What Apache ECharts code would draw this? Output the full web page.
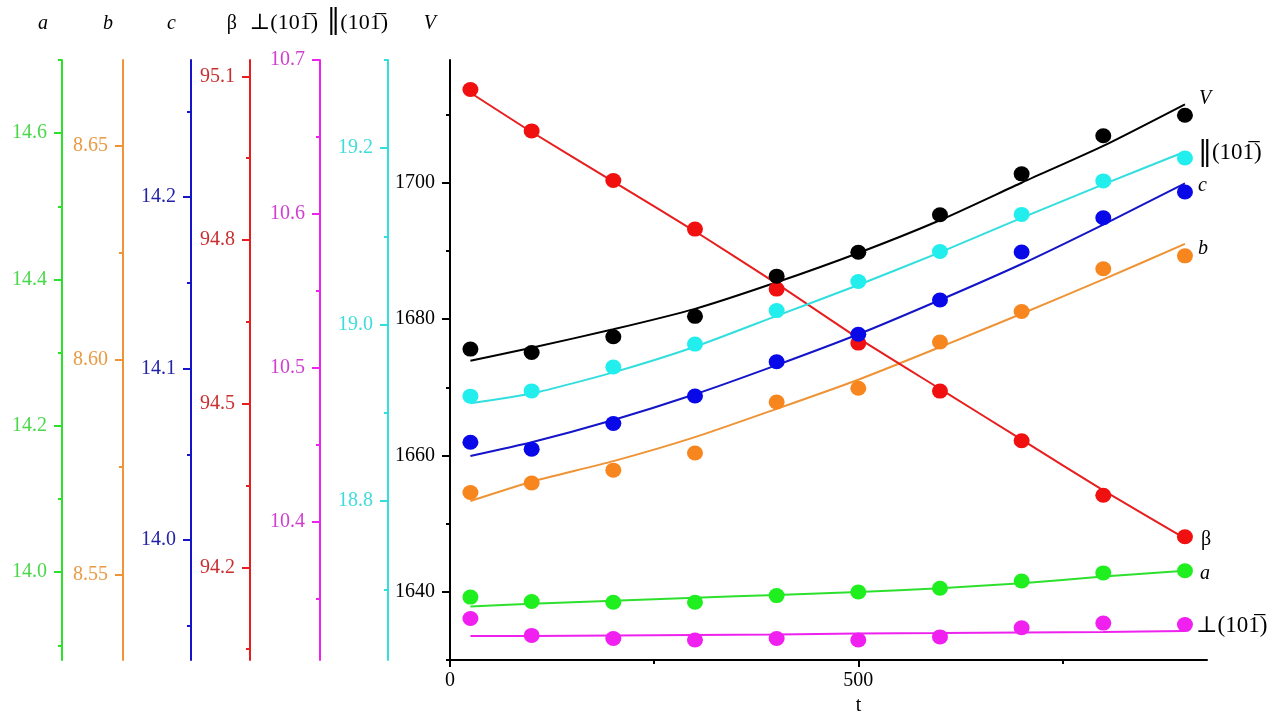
<!DOCTYPE html>
<html>
<head>
<meta charset="utf-8">
<script src="https://cdn.jsdelivr.net/npm/echarts@6/dist/echarts.min.js"></script>
<style>
  html, body { margin: 0; padding: 0; background: #fff; }
  #chart { width: 1274px; height: 711px; }
</style>
</head>
<body>
<div id="chart"></div>
<script>
// Lattice parameters vs. t: measured points and fitted curves
const tValues = [25, 100, 200, 300, 400, 500, 600, 700, 800, 900];

const aPoints = [13.966, 13.960, 13.959, 13.959, 13.968, 13.973, 13.978, 13.988, 13.999, 14.002];
const aFit    = [13.953, 13.957, 13.961, 13.965, 13.969, 13.973, 13.978, 13.985, 13.994, 14.002];

const bPoints = [8.5691, 8.5713, 8.5743, 8.5783, 8.5902, 8.5934, 8.6042, 8.6113, 8.6213, 8.6243];
const bFit    = [8.5671, 8.5716, 8.5764, 8.5820, 8.5886, 8.5954, 8.6030, 8.6108, 8.6188, 8.6271];

const cPoints = [14.057, 14.053, 14.068, 14.084, 14.104, 14.120, 14.140, 14.168, 14.188, 14.203];
const cFit    = [14.049, 14.057, 14.070, 14.085, 14.102, 14.120, 14.140, 14.161, 14.184, 14.208];

const betaPoints = [95.076, 95.000, 94.909, 94.820, 94.710, 94.611, 94.523, 94.432, 94.332, 94.256];
const betaFit    = [95.070, 94.998, 94.907, 94.816, 94.720, 94.620, 94.527, 94.434, 94.341, 94.253];

const perpPoints = [10.337, 10.326, 10.324, 10.323, 10.324, 10.323, 10.325, 10.331, 10.334, 10.333];
const perpFit    = [10.3256, 10.3256, 10.3259, 10.3262, 10.3266, 10.3272, 10.3275, 10.3279, 10.3282, 10.3288];

const paraPoints = [18.919, 18.925, 18.952, 18.978, 19.016, 19.049, 19.083, 19.125, 19.163, 19.189];
const paraFit    = [18.911, 18.922, 18.946, 18.975, 19.010, 19.045, 19.082, 19.121, 19.159, 19.196];

const vPoints = [1675.6, 1675.1, 1677.4, 1680.4, 1686.3, 1689.8, 1695.3, 1701.3, 1706.9, 1709.9];
const vFit    = [1673.9, 1675.8, 1678.5, 1681.5, 1685.4, 1689.7, 1694.5, 1700.0, 1705.4, 1711.5];

// Tick values (major labelled, minor unlabelled)
const aTicks = [14.0, 14.2, 14.4, 14.6];        const aMinor = [13.9, 14.1, 14.3, 14.5, 14.7];
const bTicks = [8.55, 8.60, 8.65];              const bMinor = [8.575, 8.625];
const cTicks = [14.0, 14.1, 14.2];              const cMinor = [13.95, 14.05, 14.15, 14.25];
const betaTicks = [94.2, 94.5, 94.8, 95.1];     const betaMinor = [94.05, 94.35, 94.65, 94.95];
const perpTicks = [10.4, 10.5, 10.6, 10.7];     const perpMinor = [10.35, 10.45, 10.55, 10.65];
const paraTicks = [18.8, 19.0, 19.2];           const paraMinor = [18.7, 18.9, 19.1, 19.3];
const vTicks = [1640, 1660, 1680, 1700];        const vMinor = [1630, 1650, 1670, 1690, 1710];
const tTicks = [0, 500];                        const tMinor = [250, 750];

const FONT = '"Liberation Serif", "Times New Roman", "DejaVu Serif", serif';
const BAR_FONT = '"DejaVu Serif", "Liberation Serif", serif';

const PERP = '\u22A5(101\u0305)';
const PARA = '\u2016(101\u0305)';
// rich-text forms: taller double bar, slightly larger Miller indices
const PERP_RICH = '{hkl|\u22A5(101\u0305)}';
const PARA_RICH = '{bar|\u2016}{hkl|(101\u0305)}';
const richName = {
  bar: { fontFamily: BAR_FONT, fontSize: 27, color: '#000', verticalAlign: 'bottom' },
  hkl: { fontFamily: FONT, fontSize: 22, color: '#000', verticalAlign: 'bottom' }
};
const richEnd = {
  bar: { fontFamily: BAR_FONT, fontSize: 28, color: '#000' },
  hkl: { fontFamily: FONT, fontSize: 23, color: '#000' }
};

// One entry per quantity: its own y axis (stacked to the left) plus point/fit series
const params = [
  { name: 'a', italic: true, color: '#2ee02e', dot: '#1fee1f', label: '#4ad84a', min: 13.88, max: 14.70,
    ticks: aTicks, minor: aMinor, dec: 1, offset: 388, namePad: 14,
    pts: aPoints, fit: aFit, endOffset: [15, 3] },
  { name: 'b', italic: true, color: '#ee9436', dot: '#f7861e', label: '#e99a44', min: 8.53, max: 8.67,
    ticks: bTicks, minor: bMinor, dec: 2, offset: 327, namePad: 10,
    pts: bPoints, fit: bFit, endOffset: [13, 5] },
  { name: 'c', italic: true, color: '#1414c8', dot: '#0808e8', label: '#2323a8', min: 13.93, max: 14.28,
    ticks: cTicks, minor: cMinor, dec: 1, offset: 259, namePad: 15,
    pts: cPoints, fit: cFit, endOffset: [13, 2] },
  { name: '\u03B2', italic: false, color: '#e81e1e', dot: '#f01010', label: '#c83030', min: 94.03, max: 95.13,
    ticks: betaTicks, minor: betaMinor, dec: 1, offset: 200, namePad: 13,
    pts: betaPoints, fit: betaFit, endOffset: [16, 1] },
  { name: PERP, rich: PERP_RICH, italic: false, color: '#ee22ee', dot: '#f020f0', label: '#d040d0', min: 10.31, max: 10.70,
    ticks: perpTicks, minor: perpMinor, dec: 1, offset: 130, namePad: 2,
    pts: perpPoints, fit: perpFit, endOffset: [11, -5] },
  { name: PARA, rich: PARA_RICH, italic: false, color: '#33dede', dot: '#22eeee', label: '#40dcdc', min: 18.62, max: 19.30,
    ticks: paraTicks, minor: paraMinor, dec: 1, offset: 62, namePad: 0,
    pts: paraPoints, fit: paraFit, endOffset: [13, 1] },
  { name: 'V', italic: true, color: '#000000', dot: '#000000', label: '#000000', min: 1630, max: 1718,
    ticks: vTicks, minor: vMinor, dec: 0, offset: 0, namePad: 14,
    pts: vPoints, fit: vFit, endOffset: [14, -6] }
];

const yAxes = [];
const series = [];

params.forEach((p) => {
  yAxes.push({
    type: 'value', position: 'left', offset: p.offset, min: p.min, max: p.max,
    name: p.rich || p.name, nameLocation: 'end', nameGap: 26,
    nameTextStyle: {
      color: '#000', fontFamily: FONT, fontSize: 20,
      fontStyle: p.italic ? 'italic' : 'normal',
      align: 'right', padding: [0, p.namePad, 0, 0],
      rich: richName
    },
    axisLine: { show: true, onZero: false, lineStyle: { color: p.color, width: 2 } },
    axisTick: { show: true, inside: false, length: 8, customValues: p.ticks,
      lineStyle: { color: p.color, width: 2 } },
    axisLabel: { show: true, customValues: p.ticks, margin: 15, color: p.label,
      fontFamily: FONT, fontSize: 20, formatter: (v) => Number(v).toFixed(p.dec) },
    splitLine: { show: false }
  });
  yAxes.push({
    type: 'value', position: 'left', offset: p.offset, min: p.min, max: p.max,
    axisLine: { show: false, onZero: false },
    axisTick: { show: true, inside: false, length: 4, customValues: p.minor,
      lineStyle: { color: p.color, width: 2 } },
    axisLabel: { show: false },
    splitLine: { show: false }
  });
});

params.forEach((p, i) => {
  series.push({
    type: 'line', name: p.name + ' fit', yAxisIndex: 2 * i, xAxisIndex: 0,
    data: tValues.map((t, k) => [t, p.fit[k]]),
    smooth: 0.2, showSymbol: false, symbol: 'none', z: 2,
    lineStyle: { color: p.color, width: 2 },
    endLabel: {
      show: true, formatter: () => p.rich || p.name, distance: 0, offset: p.endOffset,
      color: '#000', fontFamily: FONT, fontSize: 20,
      fontStyle: p.italic ? 'italic' : 'normal', rich: richEnd
    },
    emphasis: { disabled: true }
  });
});

// draw order of the dots: red below, black on top
[3, 0, 4, 1, 2, 5, 6].forEach((i) => {
  const p = params[i];
  series.push({
    type: 'scatter', name: p.name, yAxisIndex: 2 * i, xAxisIndex: 0,
    data: tValues.map((t, k) => [t, p.pts[k]]),
    symbol: 'circle', symbolSize: [16, 15], z: 3,
    itemStyle: { color: p.dot, opacity: 1 },
    emphasis: { disabled: true }
  });
});

const chart = echarts.init(document.getElementById('chart'), null, { renderer: 'canvas' });
chart.setOption({
  animation: false,
  backgroundColor: '#ffffff',
  grid: { left: 450, right: 67, top: 60, bottom: 51, containLabel: false, outerBoundsMode: 'none' },
  xAxis: [
    {
      type: 'value', position: 'bottom', min: 0, max: 927,
      name: 't', nameLocation: 'middle', nameGap: 33,
      nameTextStyle: { color: '#000', fontFamily: FONT, fontSize: 20, padding: [0, 0, 0, 60] },
      axisLine: { show: true, onZero: false, lineStyle: { color: '#000', width: 2 } },
      axisTick: { show: true, length: 7, customValues: tTicks, lineStyle: { color: '#000', width: 2 } },
      axisLabel: { show: true, customValues: tTicks, margin: 11, color: '#000', fontFamily: FONT, fontSize: 20 },
      splitLine: { show: false }
    },
    {
      type: 'value', position: 'bottom', min: 0, max: 927,
      axisLine: { show: false, onZero: false },
      axisTick: { show: true, length: 4, customValues: tMinor, lineStyle: { color: '#000', width: 2 } },
      axisLabel: { show: false },
      splitLine: { show: false }
    }
  ],
  yAxis: yAxes,
  series: series
});
</script>
</body>
</html>
